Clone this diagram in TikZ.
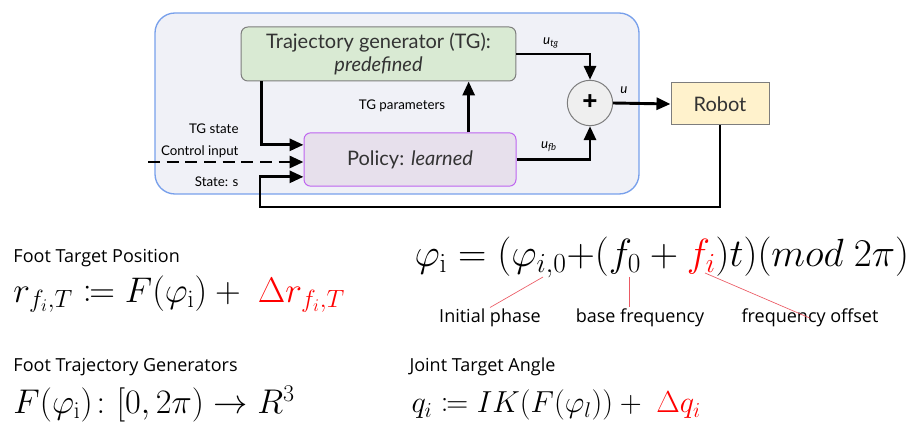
\RequirePackage{fix-cm}
\documentclass[tikz,border=0pt]{standalone}
\usepackage{mathtools}
\usepackage[no-math]{fontspec}
\setmainfont{Open Sans}
\newfontfamily\diagfont{Lato}
\usetikzlibrary{arrows.meta}

\definecolor{panelfill}{RGB}{240,241,247}
\definecolor{paneledge}{RGB}{120,160,235}
\definecolor{tgfill}{RGB}{217,234,211}
\definecolor{policyfill}{RGB}{231,224,236}
\definecolor{policyedge}{RGB}{190,100,240}
\definecolor{robotfill}{RGB}{255,242,204}
\definecolor{sumfill}{RGB}{239,239,239}
\definecolor{boxedge}{RGB}{125,125,125}
\definecolor{annotred}{RGB}{235,90,100}

\tikzset{every picture/.style={line width=0.75pt}}

\begin{document}
\begin{tikzpicture}[x=0.75pt,y=0.75pt,yscale=-1,xscale=1,
	blockbox/.style={draw=boxedge,rounded corners=5pt,align=center,font=\diagfont\fontsize{15}{19}\selectfont,text=black!80},
	flow/.style={line width=2.2pt,-{Triangle[length=10.5pt,width=9pt]}},
	smalllbl/.style={font=\diagfont\fontsize{10}{12}\selectfont,inner sep=0.75pt},
	heading/.style={font=\fontsize{13.5}{16}\selectfont,inner sep=0.75pt,anchor=west},
	formula/.style={font=\fontsize{25.7}{29}\selectfont,inner sep=0.75pt,anchor=west},
	annot/.style={draw=annotred,line width=0.5pt}]
\useasboundingbox (0,0) rectangle (924,427);

%Shape: Rounded Rect [id:panel]
\draw[paneledge,fill=panelfill,line width=1pt,rounded corners=15pt] (155,13) rectangle (639,194) ;

%Shape: Blocks
\node[blockbox,fill=tgfill,minimum width=206pt,minimum height=40.5pt] (tg) at (378.5,54) {Trajectory generator (TG):\\[-2pt]\textit{predefined}};
\node[blockbox,fill=policyfill,draw=policyedge,minimum width=159pt,minimum height=40pt] (policy) at (410,159.5) {Policy: \textit{learned}};
\node[circle,draw=boxedge,fill=sumfill,minimum size=34pt,inner sep=0pt,font=\fontsize{20}{20}\selectfont\bfseries] (sum) at (590,103) {+};
\node[blockbox,rounded corners=0pt,fill=robotfill,minimum width=73.5pt,minimum height=31.5pt] (robot) at (720,104) {Robot};

%Coordinates for the free ends
\coordinate (ctrl) at (148,162);
\coordinate (fb) at (260,207);
\coordinate (tgp) at ([xshift=44pt]policy.north);
\coordinate (tgs) at ([xshift=15.75pt]tg.south west);

%Straight Lines
\draw[flow] (tg.east) -| (sum.north) ;
\draw[flow] (policy.east) -| (sum.south) ;
\draw[flow] (sum.east) -- (robot.west) ;
\draw[flow] (tgp) -- (tgp |- tg.south) ;
\draw[flow] (tgs) |- ([yshift=-11pt]policy.west) ;
\draw[flow,dash pattern=on 9pt off 5pt] (ctrl) -- (ctrl -| policy.west) ;
\draw[flow] (robot.south) -- (robot.south |- fb) -- (fb) |- ([yshift=13pt]policy.west) ;

% Text Node
\node[smalllbl] (utg) at (551,43) {\textit{u}\textsubscript{\textit{tg}}};
\node[smalllbl] (ufb) at (549,147) {\textit{u}\textsubscript{\textit{fb}}};
\node[smalllbl] (uout) at (624,90) {\textit{u}};
\node[smalllbl] (tgplbl) at (402,106) {TG parameters};
\node[smalllbl,anchor=east] (tgslbl) at (240,129) {TG state};
\node[smalllbl,anchor=east] (ctrllbl) at (240,152) {Control input};
\node[smalllbl,anchor=east] (statelbl) at (240,182) {State: s};

% Text Node
\node[heading] (fthead) at (12,258) {Foot Target Position};
\node[formula,font=\fontsize{26.7}{30}\selectfont] (ftpos) at (12,294) {$r_{f_i,T} \coloneqq F(\varphi_\mathrm{i}) + \ {\color{red}\Delta r_{f_i,T}}$};
\node[formula,font=\fontsize{29.5}{33}\selectfont] (phase) at (413,257) {$\varphi_\mathrm{i} = (\varphi_{i,0}{+}(f_0 + {\color{red}f_i})t)(mod\ 2\pi)$};
\node[heading] (fgenhead) at (12,367) {Foot Trajectory Generators};
\node[formula] (fgen) at (12,404) {$F(\varphi_\mathrm{i})\colon [0,2\pi) \rightarrow R^3$};
\node[heading] (jhead) at (408,367) {Joint Target Angle};
\node[formula,font=\fontsize{22.8}{26}\selectfont] (joint) at (410,405) {$q_i \coloneqq IK(F(\varphi_l)) + \ {\color{red}\Delta q_i}$};

% Text Node
\node[heading,anchor=center] (initlbl) at (490,318) {Initial phase};
\node[heading,anchor=center] (baselbl) at (640,318) {base frequency};
\node[heading,anchor=center] (offlbl) at (810,318) {frequency offset};

%Straight Lines
\coordinate (phi0) at (543,277);
\coordinate (basept) at (629,277);
\coordinate (offpt) at (705,273);
\draw[annot] (phi0) -- (initlbl.north) ;
\draw[annot] (basept) -- (basept |- baselbl.north) ;
\draw[annot] (offpt) -- ([yshift=8pt]offlbl.north) ;

\end{tikzpicture}
\end{document}
